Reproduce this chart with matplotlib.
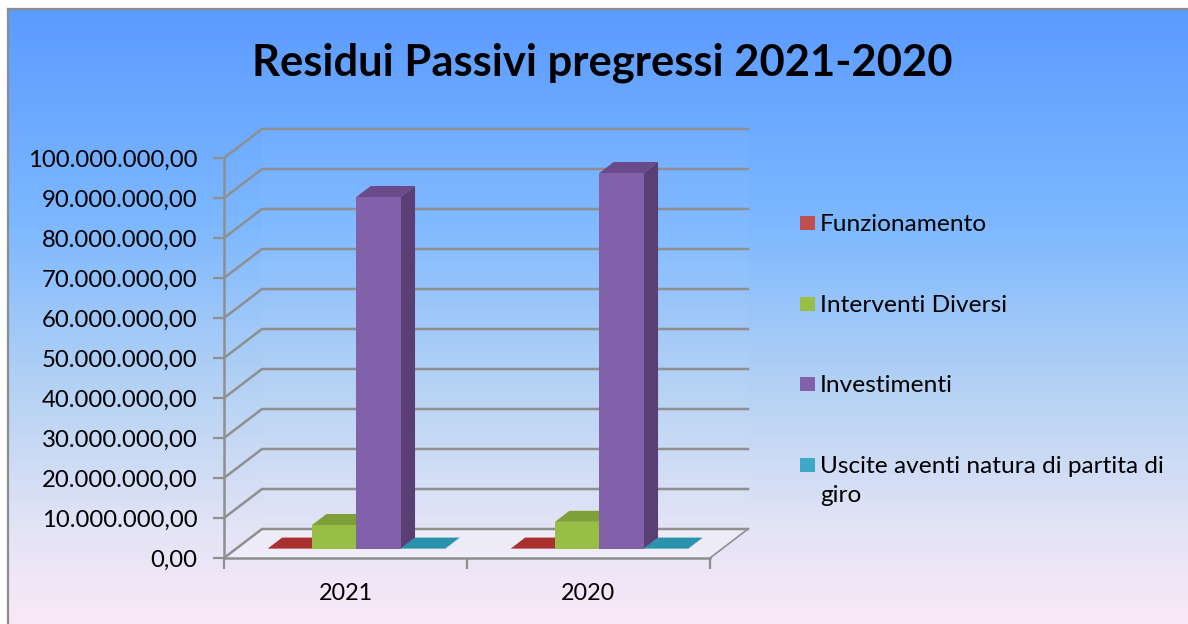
import numpy as np
import matplotlib
matplotlib.use("Agg")
import matplotlib.pyplot as plt
from matplotlib.patches import Polygon, Rectangle
from matplotlib.colors import LinearSegmentedColormap

categories = ["2021", "2020"]
series_names = ["Funzionamento", "Interventi Diversi", "Investimenti",
                "Uscite aventi natura di partita di\ngiro"]
funzionamento = [100000, 100000]
interventi = [6000000, 6800000]
investimenti = [88000000, 94000000]
uscite = [100000, 100000]
y_ticks = list(range(0, 100000001, 10000000))
title = "Residui Passivi pregressi 2021-2020"

W, H = 1188, 624
plt.rcParams["font.family"] = ["Lato", "DejaVu Sans"]
fig = plt.figure(figsize=(W / 100, H / 100), dpi=100, facecolor="white")

# background panel with gradient
bg = fig.add_axes([8 / W, 0, 1 - 8 / W, 1 - 9 / H])
cmap = LinearSegmentedColormap.from_list(
    "bg", [(0, "#5b9bff"), (0.35, "#7db8ff"), (0.62, "#b5d2f4"), (0.85, "#e4e4f6"), (1, "#fae8f8")])
bg.imshow(np.linspace(0, 1, 256)[:, None], aspect="auto", cmap=cmap, extent=[0, 1, 0, 1])
bg.set_xticks([]); bg.set_yticks([])
for s in ("bottom", "right"):
    bg.spines[s].set_visible(False)
for s in ("left", "top"):
    bg.spines[s].set_color("#8c8c8c"); bg.spines[s].set_linewidth(1.6)

# main axes = front plane of 3D box
L, R, T, B = 224, 710, 158, 558
ax = fig.add_axes([L / W, 1 - B / H, (R - L) / W, (B - T) / H])
ax.patch.set_alpha(0)
ax.set_xlim(0, len(categories))
ax.set_ylim(0, 100000000)
for s in ("top", "right"):
    ax.spines[s].set_visible(False)
GRID = "#8f8f8f"
for s in ("left", "bottom"):
    ax.spines[s].set_color(GRID); ax.spines[s].set_linewidth(1.8)
ax.set_yticks(y_ticks)
ax.set_yticklabels([f"{v:,.2f}".replace(",", "X").replace(".", ",").replace("X", ".") for v in y_ticks],
                   fontsize=17.2, color="black")
ax.set_xticks(range(len(categories) + 1))
ax.set_xticklabels([""] * (len(categories) + 1))
ax.tick_params(axis="both", color=GRID, width=1.6, length=8)
ax.tick_params(axis="y", pad=11)
for i, c in enumerate(categories):
    ax.annotate(c, (i + 0.5, 0), xytext=(0, -35), textcoords="offset pixels", ha="center", va="center",
                fontsize=16.8, annotation_clip=False)

DX = 38 / 243   # depth in category units
DY = 7250000    # depth in value units


def P(x, y, z):
    return (x + z * DX, y + z * DY)


def poly(pts, fc, ec="none", lw=0, z=2, alpha=None):
    ax.add_patch(Polygon(pts, closed=True, fc=fc, ec=ec, lw=lw, zorder=z, alpha=alpha, clip_on=False))


# walls and floor
n = len(categories)
poly([P(0, 0, 1), P(n, 0, 1), P(n, 100000000, 1), P(0, 100000000, 1)], "white", alpha=0.03, z=1)
poly([P(0, 0, 0), P(0, 0, 1), P(n, 0, 1), P(n, 0, 0)], "#f4f0fa", alpha=0.6, z=1)
for v in y_ticks:
    a, b, c = P(0, v, 0), P(0, v, 1), P(n, v, 1)
    ax.plot([a[0], b[0], c[0]], [a[1], b[1], c[1]], color=GRID, lw=1.8, zorder=1.5, clip_on=False,
            solid_joinstyle="round")
a, b = P(n, 0, 0), P(n, 0, 1)
ax.plot([a[0], b[0]], [a[1], b[1]], color=GRID, lw=1.2, zorder=1.5, clip_on=False)

series = [funzionamento, interventi, investimenti, uscite]
front = ["#c0504d", "#98bf45", "#8261ab", "#3fa8c4"]
tops = ["#a8302e", "#7f9f38", "#6a4a8a", "#2a93ab"]
sides = ["#8f2e2b", "#6f8c30", "#5a3f75", "#237f96"]
BW = 44.3 / 243
Z0, Z1 = 0.31, 0.69
for i in range(n):
    for j, vals in enumerate(series):
        x0 = i + 0.496 + (j - 2) * BW
        x1 = x0 + BW
        v = vals[i]
        poly([P(x1, 0, Z0), P(x1, 0, Z1), P(x1, v, Z1), P(x1, v, Z0)], sides[j], z=3 + j)
        poly([P(x0, v, Z0), P(x0, v, Z1), P(x1, v, Z1), P(x1, v, Z0)], tops[j], z=3 + j)
        poly([P(x0, 0, Z0), P(x1, 0, Z0), P(x1, v, Z0), P(x0, v, Z0)], front[j], z=3 + j)

# title
fig.text(602 / W, 1 - 63 / H, title, fontsize=31.3, fontweight="bold", ha="center", va="center", color="black")

# legend
ly = [223, 304, 384, 465]
for name, c, y in zip(series_names, front, ly):
    fig.add_artist(Rectangle((800 / W, 1 - (y + 7) / H), 15 / W, 14 / H, transform=fig.transFigure, fc=c, ec="none"))
    fig.text(820 / W, 1 - (y - 9) / H, name, fontsize=17.6, ha="left", va="top", linespacing=1.45)

fig.savefig("out.png", dpi=100)
